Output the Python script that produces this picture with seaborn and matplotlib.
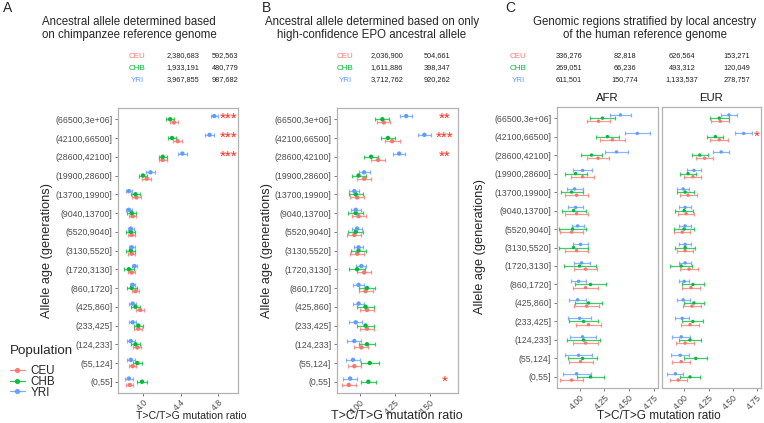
import numpy as np
import pandas as pd
import seaborn as sns
import matplotlib.pyplot as plt
from matplotlib.lines import Line2D
from matplotlib.patches import Rectangle
from matplotlib.transforms import ScaledTranslation

# age bins, top to bottom
ages = ['(66500,3e+06]', '(42100,66500]', '(28600,42100]', '(19900,28600]',
        '(13700,19900]', '(9040,13700]', '(5520,9040]', '(3130,5520]',
        '(1720,3130]', '(860,1720]', '(425,860]', '(233,425]',
        '(124,233]', '(55,124]', '(0,55]']
pops = ['CEU', 'CHB', 'YRI']
pal = {'CEU': '#F8766D', 'CHB': '#00BA38', 'YRI': '#619CFF'}

# panel A: chimpanzee reference
a_ceu = [4.33, 4.37, 4.21, 4.04, 3.93, 3.89, 3.88, 3.88, 3.88, 3.92, 3.97, 3.95, 3.94, 3.89, 3.86]
a_chb = [4.29, 4.31, 4.21, 4.00, 3.92, 3.88, 3.87, 3.87, 3.85, 3.88, 3.92, 3.95, 3.92, 3.94, 3.99]
a_yri = [4.76, 4.71, 4.42, 4.08, 3.85, 3.85, 3.87, 3.88, 3.91, 3.89, 3.89, 3.89, 3.87, 3.87, 3.85]
a_ceu_err = [0.045, 0.045, 0.044, 0.048, 0.045, 0.04, 0.04, 0.04, 0.04, 0.042, 0.045, 0.042, 0.042, 0.04, 0.036]
a_chb_err = [0.045, 0.045, 0.044, 0.044, 0.045, 0.045, 0.05, 0.05, 0.055, 0.055, 0.05, 0.05, 0.05, 0.05, 0.053]
a_yri_err = [0.035, 0.05, 0.048, 0.044, 0.03, 0.03, 0.03, 0.03, 0.03, 0.03, 0.035, 0.04, 0.04, 0.04, 0.039]
a_stars = {0: '***', 1: '***', 2: '***'}

# panel B: high-confidence EPO
b_ceu = [4.17, 4.23, 4.13, 4.03, 3.98, 3.99, 3.96, 3.98, 4.03, 4.04, 4.05, 4.05, 4.01, 3.96, 3.92]
b_chb = [4.16, 4.20, 4.08, 3.99, 3.97, 3.97, 3.97, 3.99, 3.98, 4.05, 4.04, 4.04, 4.05, 4.07, 4.06]
b_yri = [4.33, 4.46, 4.28, 4.03, 3.96, 3.97, 3.98, 3.99, 4.01, 3.99, 3.99, 3.97, 3.96, 3.95, 3.93]
b_ceu_err = [0.045, 0.054, 0.05, 0.05, 0.05, 0.05, 0.05, 0.05, 0.05, 0.05, 0.05, 0.05, 0.05, 0.048, 0.049]
b_chb_err = [0.051, 0.05, 0.048, 0.05, 0.05, 0.055, 0.055, 0.055, 0.055, 0.06, 0.06, 0.06, 0.06, 0.063, 0.054]
b_yri_err = [0.045, 0.044, 0.044, 0.04, 0.035, 0.035, 0.035, 0.035, 0.035, 0.04, 0.04, 0.045, 0.05, 0.05, 0.051]
b_stars = {0: '**', 1: '***', 2: '**', 14: '*'}

# panel C: local ancestry AFR
afr_ceu = [4.19, 4.33, 4.185, 4.03, 3.97, 3.97, 3.92, 3.97, 4.06, 4.06, 4.07, 4.09, 4.06, 4.01, 3.92]
afr_chb = [4.23, 4.28, 4.12, 3.96, 3.92, 3.94, 3.93, 3.94, 4.00, 4.11, 4.09, 4.04, 4.04, 4.03, 4.11]
afr_yri = [4.41, 4.58, 4.37, 4.03, 3.95, 3.96, 3.98, 4.01, 4.02, 3.99, 3.98, 4.00, 4.03, 3.99, 3.97]
afr_ceu_err = [0.12, 0.125, 0.115, 0.115, 0.116, 0.116, 0.115, 0.116, 0.12, 0.126, 0.123, 0.126, 0.123, 0.12, 0.113]
afr_chb_err = [0.125, 0.12, 0.11, 0.11, 0.11, 0.12, 0.135, 0.145, 0.16, 0.158, 0.138, 0.15, 0.165, 0.15, 0.135]
afr_yri_err = [0.105, 0.125, 0.115, 0.096, 0.08, 0.072, 0.06, 0.072, 0.08, 0.077, 0.088, 0.113, 0.13, 0.138, 0.14]

# panel C: local ancestry EUR
eur_ceu = [4.37, 4.36, 4.21, 4.09, 4.04, 4.02, 3.98, 4.01, 4.05, 4.07, 4.08, 4.06, 4.01, 3.97, 3.94]
eur_chb = [4.36, 4.32, 4.16, 4.04, 4.01, 4.00, 4.00, 4.01, 3.97, 4.09, 4.10, 4.09, 4.06, 4.12, 4.06]
eur_yri = [4.46, 4.61, 4.38, 4.10, 3.99, 4.01, 4.01, 4.01, 4.01, 4.00, 3.99, 3.98, 3.97, 3.96, 3.91]
eur_ceu_err = [0.095, 0.09, 0.09, 0.087, 0.087, 0.083, 0.083, 0.085, 0.088, 0.088, 0.092, 0.088, 0.09, 0.09, 0.09]
eur_chb_err = [0.095, 0.083, 0.083, 0.083, 0.087, 0.093, 0.1, 0.105, 0.113, 0.11, 0.1, 0.108, 0.117, 0.117, 0.1]
eur_yri_err = [0.083, 0.088, 0.082, 0.075, 0.063, 0.058, 0.058, 0.058, 0.058, 0.055, 0.067, 0.075, 0.092, 0.093, 0.082]
eur_stars = {1: '*'}

# site counts shown above each panel
a_counts = [['2,380,683', '592,563'], ['1,933,191', '480,779'], ['3,967,855', '987,682']]
b_counts = [['2,036,900', '504,661'], ['1,611,886', '398,347'], ['3,712,762', '920,262']]
c_counts = [['336,276', '82,818', '626,564', '153,271'],
            ['269,051', '66,236', '493,312', '120,049'],
            ['611,501', '150,774', '1,133,537', '278,757']]

sns.set_style('white')
plt.rcParams['font.family'] = ['Liberation Sans', 'DejaVu Sans']

W, H = 764, 423
fig = plt.figure(figsize=(7.64, 4.23), dpi=100)


def add_ax(x0, y0, x1, y1):
    return fig.add_axes([x0 / W, 1 - y1 / H, (x1 - x0) / W, (y1 - y0) / H])


def make_df(ceu, chb, yri, ceu_e, chb_e, yri_e):
    rows = []
    offs = {'CEU': 0.17, 'CHB': 0.0, 'YRI': -0.17}
    for p, vals, errs in zip(pops, [ceu, chb, yri], [ceu_e, chb_e, yri_e]):
        for i, (v, e) in enumerate(zip(vals, errs)):
            rows.append({'age': ages[i], 'pop': p, 'ratio': v, 'err': e, 'ypos': i + offs[p]})
    return pd.DataFrame(rows)


def draw_panel(ax, df, xlim, xticks, xticklabels, stars, star_x, show_y=True, ms=10):
    for p in pops:
        d = df[df['pop'] == p]
        ax.errorbar(d['ratio'], d['ypos'], xerr=d['err'], fmt='none', ecolor=pal[p],
                    elinewidth=0.9, capsize=1.3, capthick=0.9, alpha=0.75, zorder=2)
    sns.scatterplot(data=df, x='ratio', y='ypos', hue='pop', palette=pal, s=ms,
                    linewidth=0, legend=False, ax=ax, zorder=3)
    for i, s in stars.items():
        ax.text(star_x, i, s, color='#FF2A1A', fontsize=11, ha='center', va='center')
    ax.set_xlim(*xlim)
    ax.set_ylim(len(ages) - 0.4, -0.6)
    ax.set_xticks(xticks)
    ax.set_xticklabels(xticklabels, rotation=45, ha='right', rotation_mode='anchor')
    shift = ScaledTranslation(-2.5 / 72, 0, fig.dpi_scale_trans)
    for lab in ax.get_xticklabels():
        lab.set_transform(lab.get_transform() + shift)
    ax.set_yticks(range(len(ages)))
    if show_y:
        ax.set_yticklabels(ages)
    else:
        ax.set_yticklabels([])
    ax.set_xlabel('')
    ax.set_ylabel('')
    ax.tick_params(axis='y', labelsize=6.3, pad=1.5)
    ax.tick_params(axis='x', labelsize=6.3, pad=1)
    ax.tick_params(axis='both', length=2.5, width=0.6, color='#666666', labelcolor='#4d4d4d',
                   left=show_y, bottom=True)
    for sp in ax.spines.values():
        sp.set_color('#b3b3b3')
        sp.set_linewidth(0.9)


# panel A
axA = add_ax(118.3, 108, 238.3, 393)
dfA = make_df(a_ceu, a_chb, a_yri, a_ceu_err, a_chb_err, a_yri_err)
draw_panel(axA, dfA, (3.737, 5.016), [4.0, 4.4, 4.8], ['4.0', '4.4', '4.8'], a_stars, 4.915)

# panel B
axB = add_ax(336.7, 108, 457.7, 393)
dfB = make_df(b_ceu, b_chb, b_yri, b_ceu_err, b_chb_err, b_yri_err)
draw_panel(axB, dfB, (3.834, 4.698), [4.0, 4.25, 4.5], ['4.00', '4.25', '4.50'], b_stars, 4.607)

# panel C, two facets
cx = [4.0, 4.25, 4.5, 4.75]
cxl = ['4.00', '4.25', '4.50', '4.75']
axC1 = add_ax(556.7, 107, 657.7, 388)
dfC1 = make_df(afr_ceu, afr_chb, afr_yri, afr_ceu_err, afr_chb_err, afr_yri_err)
draw_panel(axC1, dfC1, (3.77, 4.785), cx, cxl, {}, 0, ms=6)
axC2 = add_ax(661.7, 107, 760.7, 388)
dfC2 = make_df(eur_ceu, eur_chb, eur_yri, eur_ceu_err, eur_chb_err, eur_yri_err)
draw_panel(axC2, dfC2, (3.77, 4.785), cx, cxl, eur_stars, 4.747, show_y=False, ms=6)


def ftext(x, y, s, **kw):
    fig.text(x / W, 1 - y / H, s, **kw)


# panel letters and titles
ftext(3, 8, 'A', fontsize=10, ha='left', va='center')
ftext(262, 8, 'B', fontsize=10, ha='left', va='center')
ftext(505, 8, 'C', fontsize=10, ha='left', va='center')
ftext(129, 28.5, 'Ancestral allele determined based\non chimpanzee reference genome',
      fontsize=8.3, ha='center', va='center', linespacing=1.1)
ftext(372, 28.5, 'Ancestral allele determined based on only\nhigh-confidence EPO ancestral allele',
      fontsize=8.3, ha='center', va='center', linespacing=1.1)
ftext(645, 28.5, 'Genomic regions stratified by local ancestry\nof the human reference genome',
      fontsize=8.3, ha='center', va='center', linespacing=1.1)

# count tables
row_y = [56, 68, 80]
for label_x, col_x, counts in [(137, [183, 225], a_counts),
                               (345, [387, 437], b_counts),
                               (518, [569, 625, 682, 737], c_counts)]:
    for r, p in enumerate(pops):
        ftext(label_x, row_y[r], p, color=pal[p], fontsize=5.8, ha='center', va='center')
        for cxp, val in zip(col_x, counts[r]):
            ftext(cxp, row_y[r], val, fontsize=5.3, ha='center', va='center', color='#222222')

# facet strips
ftext((556.7 + 657.7) / 2, 98, 'AFR', fontsize=8.2, ha='center', va='center', color='#1a1a1a')
ftext((661.7 + 760.7) / 2, 98, 'EUR', fontsize=8.2, ha='center', va='center', color='#1a1a1a')

# axis labels
ftext(191, 416, 'T>C/T>G mutation ratio', fontsize=7.6, ha='center', va='center')
ftext(397, 416, 'T>C/T>G mutation ratio', fontsize=9, ha='center', va='center')
ftext(659, 416, 'T>C/T>G mutation ratio', fontsize=8.5, ha='center', va='center')
for x, y in [(47, 250), (267, 250), (480, 247)]:
    ftext(x, y, 'Allele age (generations)', fontsize=9.2, ha='center', va='center', rotation=90)

# legend box sits over the start of one tick label, as in the original
fig.patches.append(Rectangle((0, 1 - 400 / H), 80 / W, 46 / H, transform=fig.transFigure,
                             facecolor='white', edgecolor='none', zorder=4))
handles = [Line2D([0], [0], color=pal[p], marker='o', markersize=2.8, linewidth=0.9, alpha=0.85)
           for p in pops]
leg = fig.legend(handles, pops, title='Population', loc='upper left',
                 bbox_to_anchor=(6 / W, 1 - 341 / H), frameon=False,
                 fontsize=8.4, title_fontsize=9.6,
                 handlelength=1.3, handletextpad=0.5, labelspacing=-0.1, borderpad=0.3,
                 borderaxespad=0, alignment='left')
leg._legend_box.sep = 6

fig.savefig('out.png', dpi=100)
